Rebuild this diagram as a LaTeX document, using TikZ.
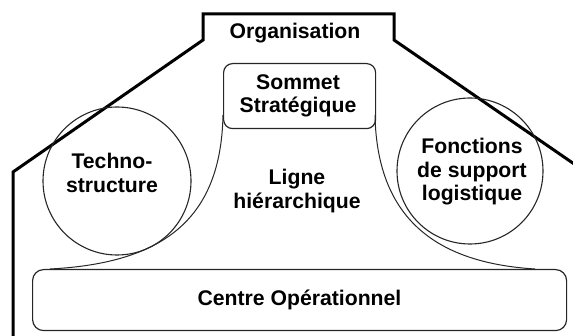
\documentclass[tikz,border=0pt]{standalone}
\usepackage{fontspec}
\setmainfont{Liberation Sans}
\begin{document}
\begin{tikzpicture}[x=1pt,y=-1pt,
  lbl/.style={font=\fontsize{21.2}{23.5}\selectfont\bfseries, align=center, inner sep=0pt},
  thin box/.style={draw=black!85, line width=1.2pt, rounded corners=9pt},
  part/.style={draw=black!85, line width=1.1pt},
  curve/.style={draw=black!85, line width=1pt},
  outer/.style={draw=black, line width=3pt, line join=miter}]
\useasboundingbox (0,0) rectangle (573,336);
% outer organisation outline
\coordinate (bl) at (13,340);
\coordinate (lc) at (13,172);
\coordinate (ld) at (203,40);
\coordinate (lt) at (203,14);
\coordinate (rt) at (394,14);
\coordinate (rd) at (394,40);
\coordinate (rc) at (580,168);
\draw[outer] (bl) -- (lc) -- (ld) -- (lt) -- (rt) -- (rd) -- (rc);
% parts
\node[thin box, minimum width=152pt, minimum height=65pt, anchor=north west] (sommet) at (223,63) {};
\node[thin box, rounded corners=11pt, minimum width=534pt, minimum height=61pt, anchor=north west] (centre) at (32,269) {};
\node[part, circle, minimum size=148pt, inner sep=0pt] (techno) at (117,181) {};
\node[part, circle, minimum size=146pt, inner sep=0pt] (support) at (470,171) {};
% ligne hierarchique
\coordinate (lstart) at (223,115);
\coordinate (lend) at (50,269);
\coordinate (rstart) at (375,115);
\coordinate (rend) at (535,269);
\draw[curve] (lstart) .. controls (221,218) and (165,263) .. (lend);
\draw[curve] (rstart) .. controls (377,222) and (440,263) .. (rend);
% labels
\node[lbl] (torg) at (295,33) {Organisation};
\node[lbl] (tsom) at (298,96) {Sommet\\Stratégique};
\node[lbl] (ttech) at (112,173) {Techno-\\structure};
\node[lbl] (tlig) at (297,191) {Ligne\\hiérarchique};
\node[lbl] (tfon) at (472,172) {Fonctions\\de support\\logistique};
\node[lbl] (tcen) at (299.5,300) {Centre Opérationnel};
\end{tikzpicture}
\end{document}
